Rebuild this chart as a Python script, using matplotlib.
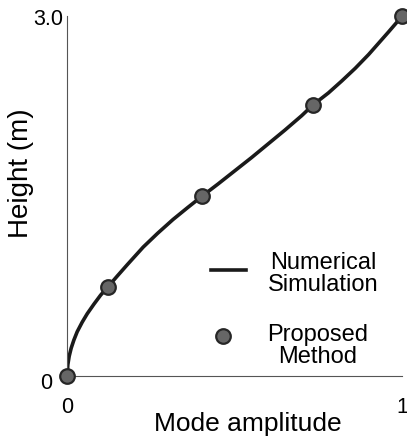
import matplotlib
matplotlib.use("Agg")
import matplotlib.pyplot as plt
from matplotlib.transforms import ScaledTranslation

plt.rcParams["font.family"] = ["Liberation Sans", "DejaVu Sans"]

# numerical simulation curve (mode amplitude, height in m)
sim_amp = [0.0, 0.002, 0.006, 0.012, 0.02, 0.03, 0.045, 0.06, 0.08, 0.1,
           0.122, 0.15, 0.18, 0.227, 0.27, 0.316, 0.36, 0.403, 0.45, 0.5,
           0.55, 0.6, 0.65, 0.7, 0.734, 0.78, 0.82, 0.86, 0.9, 0.93, 0.96,
           0.98, 1.0]
sim_h = [0.0, 0.095, 0.165, 0.233, 0.30, 0.37, 0.45, 0.52, 0.6, 0.675,
         0.745, 0.835, 0.93, 1.075, 1.19, 1.305, 1.405, 1.5, 1.6, 1.71,
         1.82, 1.935, 2.05, 2.17, 2.26, 2.36, 2.46, 2.565, 2.68, 2.775, 2.87,
         2.935, 3.0]

# proposed method points
prop_amp = [0.0, 0.122, 0.403, 0.734, 1.0]
prop_h = [0.0, 0.745, 1.5, 2.26, 3.0]

fig = plt.figure(figsize=(4.07, 4.39), dpi=100)
ax = fig.add_axes([0.165, 0.141, 0.823, 0.82])

ax.plot(sim_amp, sim_h, color="#1a1a1a", lw=2.6, solid_capstyle="round",
        solid_joinstyle="round", zorder=2)
ax.plot(prop_amp, prop_h, ls="none", marker="o", ms=10.5, mfc="#666666",
        mec="#262626", mew=1.6, clip_on=False, zorder=3)

ax.set_xlim(0, 1)
ax.set_ylim(0, 3.0)
ax.set_xticks([0, 1])
ax.set_xticklabels(["0", "1"])
ax.set_yticks([0, 3.0])
ax.set_yticklabels(["0", "3.0"])
ax.tick_params(length=0, labelsize=15.5)
ax.tick_params(axis="x", pad=14)
ax.tick_params(axis="y", pad=3)
for s in ["top", "right"]:
    ax.spines[s].set_visible(False)
for s in ["left", "bottom"]:
    ax.spines[s].set_color("#555555")
    ax.spines[s].set_linewidth(0.8)

# the "0" on the y axis sits further from the spine than "3.0"
lab0 = ax.get_yticklabels()[0]
lab0.set_transform(lab0.get_transform() + ScaledTranslation(-0.11, -0.04, fig.dpi_scale_trans))

ax.set_xlabel("Mode amplitude", fontsize=19)
ax.set_ylabel("Height (m)", fontsize=20)
ax.xaxis.set_label_coords(0.54, -0.098)
ax.yaxis.set_label_coords(-0.10, 0.567)

# legend drawn by hand
ax.plot([0.43, 0.535], [0.883, 0.883], color="#1a1a1a", lw=2.6, zorder=2)
ax.text(0.764, 0.86, "Numerical\nSimulation", fontsize=17, ha="center",
        va="center", linespacing=1.0)
ax.plot([0.466], [0.333], ls="none", marker="o", ms=10.5, mfc="#666666",
        mec="#262626", mew=1.6)
ax.text(0.749, 0.26, "Proposed\nMethod", fontsize=17, ha="center",
        va="center", linespacing=1.0)

fig.savefig("out.png", dpi=100)
